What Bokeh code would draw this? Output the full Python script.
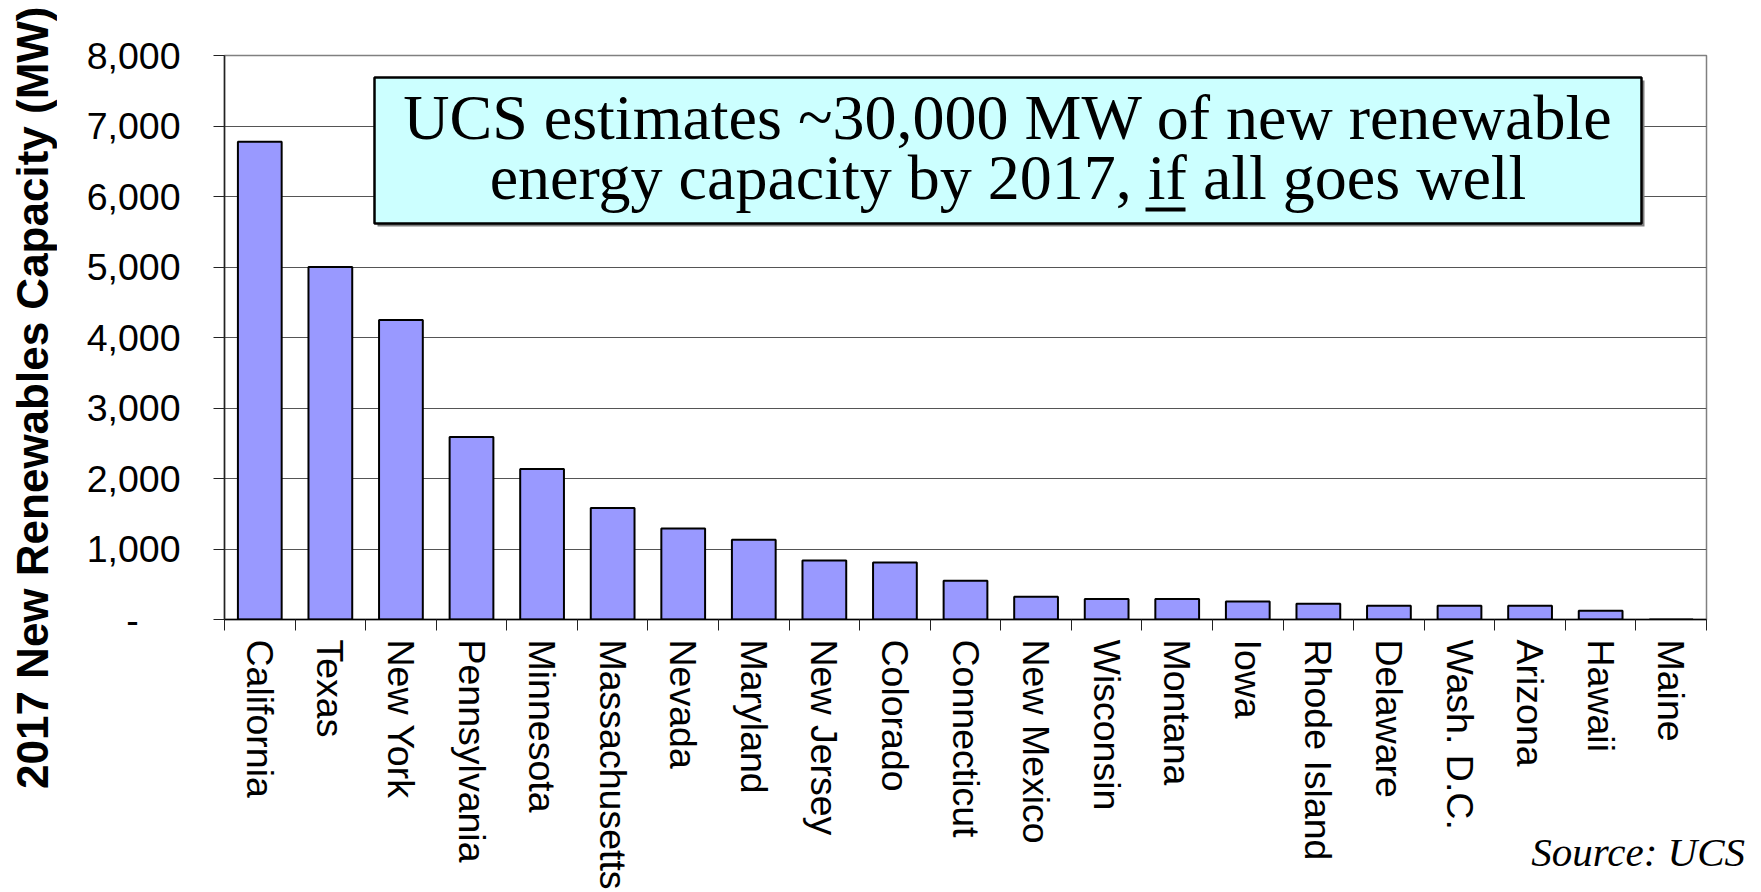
from bokeh.plotting import figure
from bokeh.layouts import column
from bokeh.models import (ColumnDataSource, Range1d, LinearAxis,
                          FixedTicker, Label, Div)
from bokeh.embed import file_html
from bokeh.resources import INLINE

# ---------------- data ----------------
states = ["California", "Texas", "New York", "Pennsylvania", "Minnesota",
          "Massachusetts", "Nevada", "Maryland", "New Jersey", "Colorado",
          "Connecticut", "New Mexico", "Wisconsin", "Montana", "Iowa",
          "Rhode Island", "Delaware", "Wash. D.C.", "Arizona", "Hawaii", "Maine"]
capacity_mw = [6775, 5000, 4250, 2590, 2135, 1580, 1290, 1130, 838, 810,
               550, 322, 290, 290, 255, 222, 194, 194, 194, 123, 0]

y_ticks = [0, 1000, 2000, 3000, 4000, 5000, 6000, 7000, 8000]
y_tick_labels = ["-\u2007\u2007", "1,000", "2,000", "3,000", "4,000",
                 "5,000", "6,000", "7,000", "8,000"]
y_title = "2017 New Renewables Capacity (MW)"
callout_line1 = "UCS estimates ~30,000 MW of new renewable"
callout_line2 = "energy capacity by 2017, if all goes well"
source_note = "Source: UCS"

# ---------------- layout helpers (screen px -> data units) ----------------
W, H = 1761, 892
FRAME_L, FRAME_R, FRAME_T, FRAME_B = 224, 1706, 55, 619
Y_MAX = 8000
N = len(states)
centers = [i + 0.5 for i in range(N)]   # category slot centres
edges = list(range(N + 1))              # category slot boundaries
BASELINE_FIX = 21                       # Label baseline correction (px)


def xpx(px):
    return (px - FRAME_L) / (FRAME_R - FRAME_L) * N


def ypx(py):
    return (FRAME_B - py) / (FRAME_B - FRAME_T) * Y_MAX


SANS = "Liberation Sans"
SERIF = "Liberation Serif"

p = figure(width=W, height=H,
           x_range=Range1d(0, N),
           y_range=Range1d(0, Y_MAX),
           x_axis_location=None,
           toolbar_location=None, output_backend="svg",
           min_border_left=FRAME_L, min_border_right=W - FRAME_R,
           min_border_top=FRAME_T, min_border_bottom=H - FRAME_B)

p.background_fill_color = "white"
p.border_fill_color = "white"
p.outline_line_color = "#808080"
p.outline_line_width = 1.5

for g in p.grid:
    if g.dimension == 0:
        g.visible = False

# ---- y axis ----
ya = p.yaxis[0]
ya.ticker = FixedTicker(ticks=y_ticks)
ya.major_label_overrides = {t: lab for t, lab in zip(y_ticks, y_tick_labels)}
ya.major_label_text_font = SANS
ya.major_label_text_font_size = "37.5px"
ya.major_label_text_color = "black"
ya.major_label_standoff = 33
ya.major_tick_out = 11
ya.major_tick_in = 0
ya.major_tick_line_color = "#222222"
ya.minor_tick_line_color = None
ya.axis_line_color = "#222222"
ya.axis_line_width = 1.5

p.ygrid.grid_line_color = "#555555"
p.ygrid.grid_line_width = 1.2

# ---- x axes: category boundary ticks, then category labels ----
edge_axis = LinearAxis(ticker=FixedTicker(ticks=edges),
                       major_label_overrides={e: "" for e in edges},
                       major_label_text_font_size="1px",
                       major_label_standoff=0,
                       major_tick_out=11, major_tick_in=0,
                       major_tick_line_color="#222222",
                       minor_tick_line_color=None,
                       axis_line_color="black", axis_line_width=1.5)
p.add_layout(edge_axis, "below")

cat_axis = LinearAxis(ticker=FixedTicker(ticks=centers),
                      major_label_overrides={c: s for c, s in zip(centers, states)},
                      major_tick_out=0, major_tick_in=0,
                      major_tick_line_color=None,
                      minor_tick_line_color=None,
                      axis_line_color=None,
                      major_label_orientation="vertical",
                      major_label_standoff=9,
                      major_label_text_font=SANS,
                      major_label_text_font_size="37.5px",
                      major_label_text_color="black")
p.add_layout(cat_axis, "below")

# ---- bars ----
src = ColumnDataSource(dict(x=centers, state=states, mw=capacity_mw))
p.vbar(x="x", top="mw", width=0.62, source=src,
       fill_color="#9999FF", line_color="black", line_width=2)

# ---- callout box ----
bx_l, bx_r, bx_t, bx_b = 374, 1641, 77, 223
p.quad(left=xpx(bx_l + 3), right=xpx(bx_r + 3), top=ypx(bx_t + 3), bottom=ypx(bx_b + 3),
       fill_color="#808080", line_color=None)
p.quad(left=xpx(bx_l), right=xpx(bx_r), top=ypx(bx_t), bottom=ypx(bx_b),
       fill_color="#CCFFFF", line_color="black", line_width=2.5)
cx = (bx_l + bx_r) / 2
p.add_layout(Label(x=xpx(cx), y=ypx(138 - BASELINE_FIX), text=callout_line1,
                   text_align="center", text_baseline="alphabetic",
                   text_font=SERIF, text_font_size="64px", text_color="black"))
p.add_layout(Label(x=xpx(cx), y=ypx(198 - BASELINE_FIX), text=callout_line2,
                   text_align="center", text_baseline="alphabetic",
                   text_font=SERIF, text_font_size="64px", text_color="black"))
# underline under "if"
p.segment(x0=xpx(1145), x1=xpx(1185), y0=ypx(209), y1=ypx(209),
          line_color="black", line_width=4)

# ---- y-axis title: rotated text block over the left margin ----
yt_w, yt_h, yt_top, yt_left = 50, 790, 3, 8
ytitle = Div(
    text=(f'<div style="writing-mode: vertical-rl; transform: rotate(180deg); '
          f'width: {yt_w}px; height: {yt_h}px; line-height: {yt_w}px; '
          f'text-align: center; white-space: nowrap; font-family: {SANS}; '
          f'font-weight: bold; font-size: 44px; color: black;">{y_title}</div>'),
    width=yt_w, height=yt_h, margin=(yt_top - H, 0, 0, yt_left))

# ---- source note: small text block in the bottom-right corner ----
note_w, note_h, note_top = 260, 45, 830
note = Div(text=source_note, width=note_w, height=note_h,
           margin=(note_top - (yt_top + yt_h), 0, 0, 1745 - note_w),
           styles={"font-family": SERIF, "font-style": "italic",
                   "font-size": "41px", "line-height": "45px",
                   "text-align": "right", "color": "black",
                   "padding": "0", "white-space": "nowrap"})

open("out.html", "w").write(file_html(column(p, ytitle, note, spacing=0), INLINE))
